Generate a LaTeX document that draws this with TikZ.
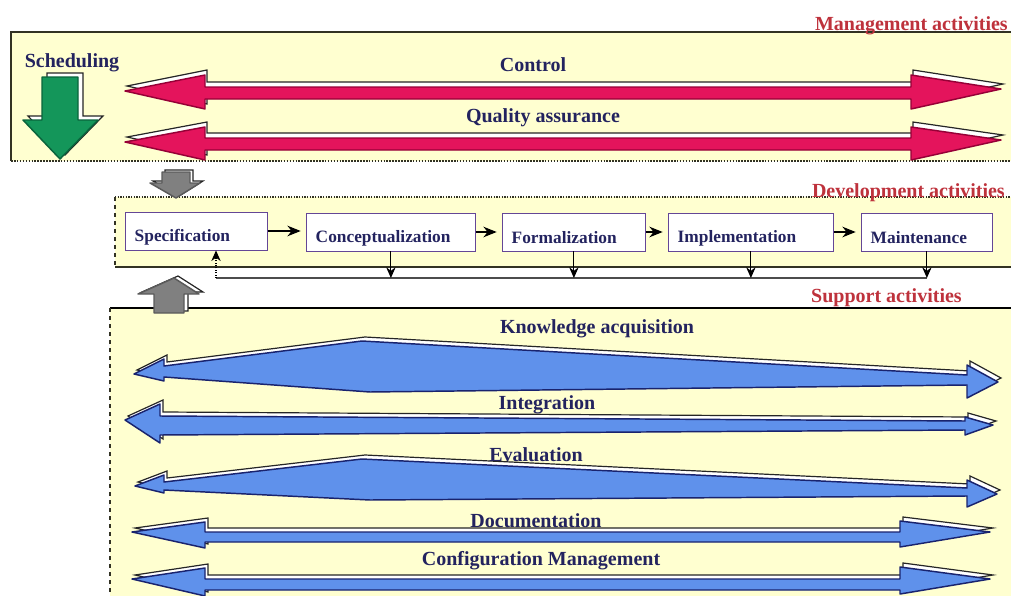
\documentclass[tikz,border=0pt]{standalone}
\usepackage{fontspec}
\setmainfont{Liberation Serif}
\usetikzlibrary{arrows.meta}
\definecolor{boxyel}{RGB}{255,255,208}
\definecolor{navytxt}{RGB}{35,35,95}
\definecolor{redtxt}{RGB}{190,50,60}
\definecolor{arrred}{RGB}{228,20,92}
\definecolor{arrreddk}{RGB}{150,0,55}
\definecolor{arrgreen}{RGB}{20,150,90}
\definecolor{arrgreendk}{RGB}{10,100,60}
\definecolor{arrblue}{RGB}{95,145,235}
\definecolor{arrbluedk}{RGB}{25,35,110}
\definecolor{arrgrey}{RGB}{128,128,128}
\definecolor{procedge}{RGB}{100,70,150}
\definecolor{boxedge}{RGB}{50,50,35}
% #1 fill, #2 edge, #3 shift, #4 path
\newcommand\fancyarrow[4]{%
  \path[fill=white,draw=black!85,line width=0.9pt,line join=miter] #4;
  \path[fill=#1,draw=#2,line width=1.1pt,line join=round,shift={#3}] #4;}
\begin{document}
\begin{tikzpicture}[x=0.75pt,y=-0.75pt,
  lbl/.style={text=navytxt,font=\bfseries\fontsize{15}{17}\selectfont,inner sep=0pt},
  redlbl/.style={text=redtxt,font=\bfseries\fontsize{15}{17}\selectfont,inner sep=0pt},
  proc/.style={draw=procedge,line width=0.6pt,fill=white,minimum height=28.5pt,
    inner xsep=7pt,inner ysep=0pt,align=left,anchor=west,text=navytxt,
    font=\bfseries\fontsize{13}{15}\selectfont,
    execute at begin node={\rule{0pt}{18pt}}},
  flow/.style={draw=black,line width=1pt,-{Stealth[length=10pt,width=8pt]},shorten >=4pt},
  fb/.style={draw=black,line width=0.8pt,-{Stealth[length=8pt,width=7pt]}},
]
\useasboundingbox (0,0) rectangle (1011,596);
% ---------- boxes ----------
\fill[boxyel] (11,32) rectangle (1011,161);
\draw[boxedge,line width=1.2pt] (1011,32) -- (11,32) -- (11,161);
\draw[boxedge,line width=1.2pt,densely dotted] (11,161) -- (1011,161);
\fill[boxyel] (115,197) rectangle (1011,267);
\draw[boxedge,line width=1pt,densely dotted] (115,197) -- (1011,197);
\draw[boxedge,line width=1pt,dashed] (115,197) -- (115,267);
\draw[boxedge,line width=1.2pt] (115,267) -- (1011,267);
\fill[boxyel] (110,308) rectangle (1011,596);
\draw[black,line width=1.2pt] (110,308) -- (1011,308);
\draw[boxedge,line width=1pt,dashed] (110,308) -- (110,596);
% ---------- management arrows ----------
\fancyarrow{arrgreen}{arrgreendk}{(-5,4)}{(47,73) -- (83,73) -- (83,116) -- (103,116) -- (65,155) -- (28,116) -- (47,116) -- cycle}
\fancyarrow{arrred}{arrreddk}{(-2,5)}{(127,86) -- (207,70) -- (207,82) -- (913,82) -- (913,70) -- (1003,84) -- (913,104) -- (913,94) -- (207,94) -- (207,104) -- cycle}
\fancyarrow{arrred}{arrreddk}{(-2,5)}{(127,137) -- (207,122) -- (207,133) -- (913,133) -- (913,122) -- (1003,135) -- (913,155) -- (913,145) -- (207,145) -- (207,155) -- cycle}
% ---------- grey arrows ----------
\fancyarrow{arrgrey}{arrgrey!70!black}{(-3,2)}{(165,170) -- (193,170) -- (193,181) -- (203,181) -- (179,196) -- (153,181) -- (165,181) -- cycle}
\fancyarrow{arrgrey}{arrgrey!70!black}{(-4,2)}{(178,276) -- (203,292) -- (188,292) -- (188,311) -- (158,311) -- (158,292) -- (142,292) -- cycle}
% ---------- support arrows ----------
\fancyarrow{arrblue}{arrbluedk}{(-3,4)}{(137,370) -- (167,355) -- (167,362) -- (365,337) -- (970,371) -- (970,361) -- (1001,378) -- (970,394) -- (970,381) -- (373,388) -- (167,373) -- (167,377) -- cycle}
\fancyarrow{arrblue}{arrbluedk}{(-3,4)}{(128,416) -- (163,400) -- (163,412) -- (968,417) -- (968,413) -- (996,421) -- (968,431) -- (968,426) -- (163,431) -- (163,439) -- cycle}
\fancyarrow{arrblue}{arrbluedk}{(-3,4)}{(138,482) -- (167,471) -- (167,478) -- (365,455) -- (970,484) -- (970,476) -- (1000,490) -- (970,503) -- (970,492) -- (373,496) -- (167,486) -- (167,489) -- cycle}
\fancyarrow{arrblue}{arrbluedk}{(-3,4)}{(135,528) -- (208,518) -- (208,528) -- (903,528) -- (903,517) -- (993,528) -- (903,543) -- (903,538) -- (208,538) -- (208,544) -- cycle}
\fancyarrow{arrblue}{arrbluedk}{(-3,4)}{(135,575) -- (208,564) -- (208,575) -- (903,575) -- (903,563) -- (993,575) -- (903,590) -- (903,586) -- (208,586) -- (208,592) -- cycle}
% ---------- labels ----------
\node[redlbl,anchor=base east] (lman) at (1008,31) {Management activities};
\node[redlbl,anchor=base east] (ldev) at (1005,197) {Development activities};
\node[redlbl,anchor=base east] (lsup) at (962,302) {Support activities};
\node[lbl] (lsched) at (72,63) {Scheduling};
\node[lbl] (lctrl) at (533,65) {Control};
\node[lbl] (lqa) at (543,118) {Quality assurance};
\node[lbl] (lka) at (597,329) {Knowledge acquisition};
\node[lbl] (lint) at (547,405) {Integration};
\node[lbl] (leval) at (536,455) {Evaluation};
\node[lbl] (ldoc) at (536,521) {Documentation};
\node[lbl] (lconf) at (541,561) {Configuration Management};
% ---------- development process ----------
\node[proc,text width=92.5pt] (spec) at (125,231) {Specification};
\node[proc,text width=112.75pt] (concept) at (306,232) {Conceptualization};
\node[proc,text width=93.25pt] (formal) at (502,232) {Formalization};
\node[proc,text width=109.75pt] (impl) at (668,232) {Implementation};
\node[proc,text width=84.25pt] (maint) at (861,232) {Maintenance};
\draw[flow] (spec.east) -- (spec.east -| concept.west);
\draw[flow] (concept.east) -- (formal.west);
\draw[flow] (formal.east) -- (impl.west);
\draw[flow] (impl.east) -- (maint.west);
\coordinate (fbl) at (216,278);
\coordinate (fbr) at (maint.south |- fbl);
\draw[black!70,line width=0.8pt] (fbl) -- (fbr);
\draw[fb] (concept.south) -- (concept.south |- fbl);
\draw[fb] (formal.south) -- (formal.south |- fbl);
\draw[fb] (impl.south) -- (impl.south |- fbl);
\draw[fb] (maint.south) -- (fbr);
\draw[fb,densely dotted] (fbl) -- (fbl |- spec.south);
\end{tikzpicture}
\end{document}
